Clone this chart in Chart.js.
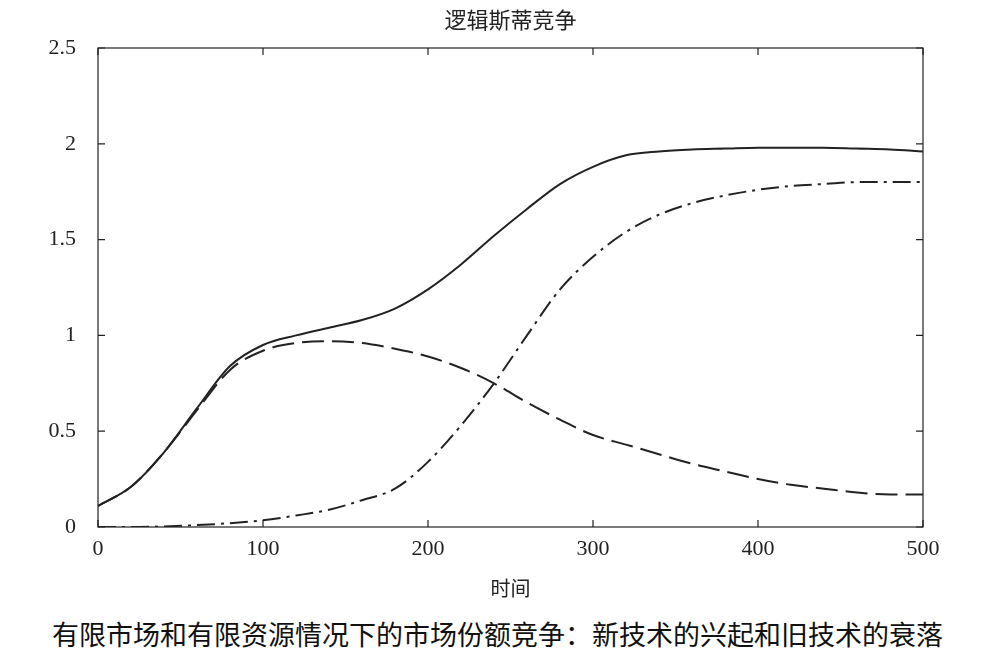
<!DOCTYPE html>
<html>
<head>
<meta charset="utf-8">
<script src="https://cdn.jsdelivr.net/npm/chart.js@4"></script>
<style>
  body { margin: 0; background: #fff; width: 1000px; height: 664px; position: relative; overflow: hidden; }
  #caption { position: absolute; left: 52px; top: 614px; font: 27px "Noto Sans CJK SC", sans-serif; color: #111; }
</style>
</head>
<body>
<canvas id="myChart" width="1000" height="600"></canvas>
<div id="caption">有限市场和有限资源情况下的市场份额竞争：新技术的兴起和旧技术的衰落</div>
<script>
const times = [0, 20, 40, 60, 80, 100, 120, 140, 160, 180, 200, 220, 240, 260, 280, 300, 320, 340, 360, 380, 400, 420, 440, 460, 480, 500];
const total = [0.11, 0.21, 0.39, 0.62, 0.84, 0.95, 1.0, 1.04, 1.08, 1.14, 1.24, 1.37, 1.52, 1.66, 1.79, 1.88, 1.94, 1.96, 1.97, 1.975, 1.98, 1.98, 1.98, 1.975, 1.97, 1.96];
const oldTech = [0.11, 0.21, 0.39, 0.61, 0.82, 0.92, 0.96, 0.97, 0.96, 0.93, 0.89, 0.83, 0.75, 0.65, 0.56, 0.48, 0.43, 0.38, 0.33, 0.29, 0.25, 0.22, 0.2, 0.18, 0.17, 0.17];
const newTech = [0, 0, 0.003, 0.01, 0.02, 0.035, 0.06, 0.09, 0.14, 0.2, 0.34, 0.53, 0.75, 1.0, 1.24, 1.41, 1.54, 1.63, 1.69, 1.73, 1.76, 1.78, 1.79, 1.8, 1.8, 1.8];
const yTicks = ['0', '0.5', '1', '1.5', '2', '2.5'];

const toXY = arr => arr.map((v, i) => ({ x: times[i], y: v }));
const serif = '"Liberation Serif", "Times New Roman", serif';

const frame = {
  id: 'frame',
  afterDraw(chart) {
    const { ctx, chartArea: a, scales } = chart;
    ctx.save();
    ctx.strokeStyle = '#222';
    ctx.lineWidth = 1.2;
    ctx.strokeRect(a.left, a.top, a.right - a.left, a.bottom - a.top);
    ctx.beginPath();
    for (let v = 0; v <= 500; v += 100) {
      const x = scales.x.getPixelForValue(v);
      ctx.moveTo(x, a.bottom); ctx.lineTo(x, a.bottom - 7);
      ctx.moveTo(x, a.top); ctx.lineTo(x, a.top + 7);
    }
    for (let v = 0; v <= 2.5; v += 0.5) {
      const y = scales.y.getPixelForValue(v);
      ctx.moveTo(a.left, y); ctx.lineTo(a.left + 7, y);
      ctx.moveTo(a.right, y); ctx.lineTo(a.right - 7, y);
    }
    ctx.stroke();
    ctx.fillStyle = '#222';
    ctx.font = '22px "Noto Sans CJK SC", serif';
    ctx.textAlign = 'center';
    ctx.textBaseline = 'middle';
    ctx.fillText('逻辑斯蒂竞争', (a.left + a.right) / 2, 20);
    ctx.restore();
  }
};

new Chart(document.getElementById('myChart'), {
  type: 'line',
  data: {
    datasets: [
      { data: toXY(total), borderColor: '#222', borderWidth: 2, pointRadius: 0, cubicInterpolationMode: 'monotone' },
      { data: toXY(oldTech), borderColor: '#222', borderWidth: 2, borderDash: [22, 8], pointRadius: 0, cubicInterpolationMode: 'monotone' },
      { data: toXY(newTech), borderColor: '#222', borderWidth: 2, borderDash: [18, 6, 3, 6], pointRadius: 0, cubicInterpolationMode: 'monotone' }
    ]
  },
  options: {
    responsive: false,
    animation: false,
    layout: { padding: { top: 48, right: 77, left: 0, bottom: 0 } },
    plugins: { legend: { display: false }, tooltip: { enabled: false } },
    scales: {
      x: {
        type: 'linear', min: 0, max: 500,
        grid: { display: false }, border: { display: false },
        ticks: { stepSize: 100, color: '#222', font: { family: serif, size: 22 }, padding: 1 },
        title: { display: true, text: '时间', color: '#222', font: { family: '"Noto Sans CJK SC"', size: 20 }, padding: { top: -4, bottom: 0 } },
        afterFit(s) { s.height = 73; }
      },
      y: {
        min: 0, max: 2.5,
        grid: { display: false }, border: { display: false },
        ticks: { stepSize: 0.5, color: '#222', font: { family: serif, size: 22 }, padding: 14,
          callback: (v, i) => yTicks[i] },
        afterFit(s) { s.width = 98; }
      }
    }
  },
  plugins: [frame]
});
</script>
</body>
</html>
